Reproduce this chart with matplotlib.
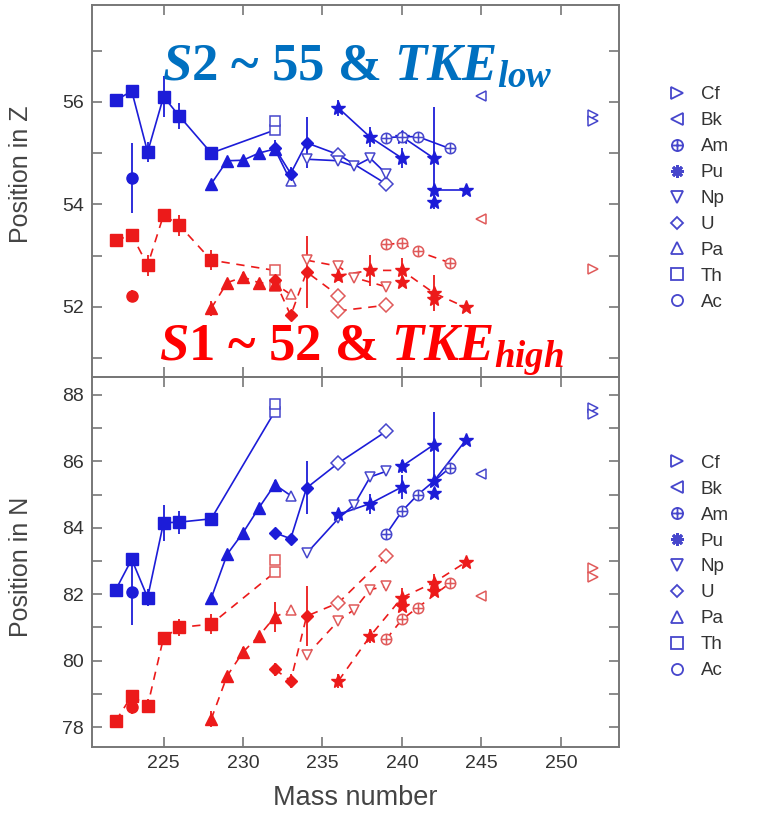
import numpy as np
import matplotlib.pyplot as plt
from matplotlib.path import Path
from matplotlib.lines import Line2D
from matplotlib.ticker import MultipleLocator

plt.rcParams['font.family'] = ['Liberation Sans', 'DejaVu Sans']
plt.rcParams['mathtext.fontset'] = 'custom'
plt.rcParams['mathtext.rm'] = 'Liberation Serif:bold'
plt.rcParams['mathtext.it'] = 'Liberation Serif:italic:bold'
plt.rcParams['mathtext.bf'] = 'Liberation Serif:bold'

# ---------------- data: top panel, position in Z ----------------
# S2 (blue); fill string: f = filled marker, o = open marker
th_a = [222, 223, 224, 225, 226, 228, 232]
th_z2 = [56.03, 56.21, 55.02, 56.10, 55.72, 55.00, 55.45]
th_z2_err = [0.12, 0.1, 0.2, 0.4, 0.25, 0.12, 0]
th_z1 = [53.30, 53.40, 52.81, 53.79, 53.59, 52.91, 52.71]
th_z1_err = [0.12, 0.1, 0.2, 0.1, 0.2, 0.2, 0]
th_fill = 'ffffffo'

ac_a = [223]
ac_z2, ac_z2_err = [54.51], [0.68]
ac_z1, ac_z1_err = [52.22], [0.1]

pa_a = [228, 229, 230, 231, 232, 233]
pa_z2 = [54.40, 54.85, 54.86, 55.00, 55.08, 54.45]
pa_z2_err = [0.08, 0.08, 0.06, 0.06, 0.1, 0]
pa_z1 = [51.97, 52.47, 52.58, 52.47, 52.45, 52.24]
pa_z1_err = [0.15, 0.05, 0.1, 0.05, 0.1, 0]
pa_fill = 'fffffo'

u_a = [232, 233, 234, 236, 239]
u_z2 = [55.10, 54.60, 55.20, 54.97, 54.40]
u_z2_err = [0.15, 0.12, 0.5, 0.08, 0]
u_fill = 'fffoo'
u_a1 = [232, 233, 234, 236]
u_z1 = [52.52, 51.83, 52.68, 52.22]
u_z1_err = [0.15, 0.1, 0.7, 0.1]
u_a1b = [236, 239]
u_z1b = [51.92, 52.03]

np_a = [234, 236, 237, 238, 239]
np_z2 = [54.88, 54.85, 54.74, 54.90, 54.60]
np_a1 = [234, 236, 237, 239]
np_z1 = [52.91, 52.79, 52.57, 52.39]

pu_a2a, pu_z2a, pu_z2a_err = [236, 238, 240], [55.88, 55.31, 54.90], [0.15, 0.2, 0.2]
pu_a2b, pu_z2b, pu_z2b_err = [240, 242], [55.32, 54.90], [0.12, 1.0]
pu_a2c, pu_z2c = [242, 244], [54.27, 54.27]
pu_a2x, pu_z2x = [242], [54.04]
pu_a1 = [236, 238, 240, 242, 244]
pu_z1 = [52.61, 52.71, 52.71, 52.27, 51.99]
pu_z1_err = [0.1, 0.3, 0.25, 0.35, 0.05]
pu_a1x, pu_z1x = [240, 242], [52.48, 52.15]

am_a = [239, 240, 241, 243]
am_z2 = [55.30, 55.32, 55.32, 55.09]
am_z1 = [53.22, 53.24, 53.08, 52.86]

bk_a = [245]
bk_z2, bk_z1 = [56.11], [53.72]
cf_a2, cf_z2 = [252, 252], [55.75, 55.63]
cf_a1, cf_z1 = [252], [52.73]

th_x2, th_zx2, th_zx1 = [232], [55.62], [52.40]

# ---------------- data: bottom panel, position in N ----------------
th_n2 = [82.14, 83.05, 81.90, 84.15, 84.17, 84.27, 87.50]
th_n2_err = [0.15, 0.1, 0.25, 0.55, 0.35, 0.15, 0]
th_n1 = [78.19, 78.94, 78.64, 80.69, 81.00, 81.10, 82.66]
th_n1_err = [0.12, 0.15, 0.2, 0.15, 0.25, 0.3, 0]
th_nx2, th_nx1 = [87.72], [83.03]

ac_n2, ac_n2_err = [82.06], [1.0]
ac_n1, ac_n1_err = [78.60], [0.2]

pa_n2 = [81.88, 83.20, 83.85, 84.60, 85.30, 84.97]
pa_n2_err = [0.08, 0.08, 0.08, 0.1, 0.15, 0]
pa_n1 = [78.24, 79.54, 80.26, 80.74, 81.32, 81.52]
pa_n1_err = [0.25, 0.1, 0.15, 0.1, 0.45, 0]

u_n2 = [83.85, 83.67, 85.20, 85.95, 86.90]
u_n2_err = [0.15, 0.15, 0.8, 0.15, 0]
u_n1 = [79.74, 79.39, 81.34, 81.74, 83.14]
u_n1_err = [0.2, 0.2, 0.9, 0.15, 0]

np_n2 = [83.23, 84.28, 84.70, 85.53, 85.70]
np_n1 = [80.16, 81.20, 81.54, 82.14, 82.24]

pu_n2a, pu_n2a_err = [84.40, 84.73, 85.23], [0.15, 0.3, 0.35]
pu_n2b, pu_n2b_err = [85.85, 86.50], [0.2, 1.0]
pu_n2c = [85.40, 86.63]
pu_n2x = [85.05]
pu_n1 = [79.39, 80.74, 81.90, 82.35, 82.96]
pu_n1_err = [0.2, 0.2, 0.3, 0.25, 0.05]
pu_n1x = [81.64, 82.10]

am_n2 = [83.80, 84.50, 85.00, 85.80]
am_n1 = [80.64, 81.24, 81.60, 82.33]

bk_n2, bk_n1 = [85.63], [81.96]
cf_n2 = [87.60, 87.42]
cf_a1n, cf_n1 = [252, 252], [82.80, 82.52]

legend_names = ['Cf', 'Bk', 'Am', 'Pu', 'Np', 'U', 'Pa', 'Th', 'Ac']

# ---------------- styles ----------------
BLUE = '#1c1cd8'
BLUE_L = '#4646cc'
RED = '#ec1a1a'
RED_L = '#e05a5a'
GRAY = '#777777'

oplus = Path.make_compound_path(
    Path.unit_circle(),
    Path([(-1, 0), (1, 0)], [Path.MOVETO, Path.LINETO]),
    Path([(0, -1), (0, 1)], [Path.MOVETO, Path.LINETO]))
mk = {'Ac': 'o', 'Th': 's', 'Pa': '^', 'U': 'D', 'Np': 'v',
      'Pu': '*', 'Am': oplus, 'Bk': '<', 'Cf': '>'}
fsize = {'o': 8, 's': 8.5, '^': 8, 'D': 6.5, '*': 10, 'v': 8}


def chain(ax, a, v, err, fill, m, col, dashed, line=True):
    ls = (0, (5, 4)) if dashed else '-'
    if line and len(a) > 1:
        ax.plot(a, v, ls=ls, color=col, lw=1.2, zorder=2)
    if err is None:
        err = [0] * len(a)
    if fill is None:
        fill = 'o' * len(a)
    lc = RED_L if dashed else BLUE_L
    for x, y, e, f in zip(a, v, err, fill):
        if e:
            ax.errorbar(x, y, yerr=e, fmt='none', ecolor=col, elinewidth=1.3, capsize=0, zorder=2)
        if f == 'f':
            ax.plot(x, y, marker=m, color=col, ms=fsize.get(m, 8), ls='none', zorder=3)
        else:
            ax.plot(x, y, marker=m, mfc='white', mec=lc, ms=7.5, mew=1.1, ls='none', zorder=3)


fig = plt.figure(figsize=(7.59, 8.22), dpi=100)
ax1 = fig.add_axes([0.1212, 0.5414, 0.6943, 0.4525])
ax2 = fig.add_axes([0.1212, 0.0912, 0.6943, 0.4502])

# top panel
chain(ax1, th_a, th_z2, th_z2_err, th_fill, 's', BLUE, False)
chain(ax1, th_x2, th_zx2, None, None, 's', BLUE, False)
chain(ax1, ac_a, ac_z2, ac_z2_err, 'f', 'o', BLUE, False)
chain(ax1, pa_a, pa_z2, pa_z2_err, pa_fill, '^', BLUE, False)
chain(ax1, u_a, u_z2, u_z2_err, u_fill, 'D', BLUE, False)
chain(ax1, np_a, np_z2, None, None, 'v', BLUE, False)
chain(ax1, pu_a2a, pu_z2a, pu_z2a_err, 'fff', '*', BLUE, False)
chain(ax1, pu_a2b, pu_z2b, pu_z2b_err, 'ff', '*', BLUE, False)
chain(ax1, pu_a2c, pu_z2c, None, 'ff', '*', BLUE, False)
chain(ax1, pu_a2x, pu_z2x, None, 'f', '*', BLUE, False)
chain(ax1, am_a, am_z2, None, None, oplus, BLUE, False)
chain(ax1, bk_a, bk_z2, None, None, '<', BLUE, False)
chain(ax1, cf_a2, cf_z2, None, None, '>', BLUE, False, line=False)

chain(ax1, th_a, th_z1, th_z1_err, th_fill, 's', RED, True)
chain(ax1, th_x2, th_zx1, None, None, 's', RED, True)
chain(ax1, ac_a, ac_z1, ac_z1_err, 'f', 'o', RED, True)
chain(ax1, pa_a, pa_z1, pa_z1_err, pa_fill, '^', RED, True)
chain(ax1, u_a1, u_z1, u_z1_err, 'fffo', 'D', RED, True)
chain(ax1, u_a1b, u_z1b, None, None, 'D', RED, True)
chain(ax1, np_a1, np_z1, None, None, 'v', RED, True)
chain(ax1, pu_a1, pu_z1, pu_z1_err, 'fffff', '*', RED, True)
chain(ax1, pu_a1x, pu_z1x, None, 'ff', '*', RED, True, line=False)
chain(ax1, am_a, am_z1, None, None, oplus, RED, True)
chain(ax1, bk_a, bk_z1, None, None, '<', RED, True)
chain(ax1, cf_a1, cf_z1, None, None, '>', RED, True)

# bottom panel
chain(ax2, th_a, th_n2, th_n2_err, th_fill, 's', BLUE, False)
chain(ax2, th_x2, th_nx2, None, None, 's', BLUE, False)
chain(ax2, ac_a, ac_n2, ac_n2_err, 'f', 'o', BLUE, False)
chain(ax2, pa_a, pa_n2, pa_n2_err, pa_fill, '^', BLUE, False)
chain(ax2, u_a, u_n2, u_n2_err, u_fill, 'D', BLUE, False)
chain(ax2, np_a, np_n2, None, None, 'v', BLUE, False)
chain(ax2, pu_a2a, pu_n2a, pu_n2a_err, 'fff', '*', BLUE, False)
chain(ax2, pu_a2b, pu_n2b, pu_n2b_err, 'ff', '*', BLUE, False)
chain(ax2, pu_a2c, pu_n2c, None, 'ff', '*', BLUE, False)
chain(ax2, pu_a2x, pu_n2x, None, 'f', '*', BLUE, False)
chain(ax2, am_a, am_n2, None, None, oplus, BLUE, False)
chain(ax2, bk_a, bk_n2, None, None, '<', BLUE, False)
chain(ax2, cf_a2, cf_n2, None, None, '>', BLUE, False, line=False)

chain(ax2, th_a, th_n1, th_n1_err, th_fill, 's', RED, True)
chain(ax2, th_x2, th_nx1, None, None, 's', RED, True)
chain(ax2, ac_a, ac_n1, ac_n1_err, 'f', 'o', RED, True)
chain(ax2, pa_a, pa_n1, pa_n1_err, pa_fill, '^', RED, True)
chain(ax2, u_a, u_n1, u_n1_err, u_fill, 'D', RED, True)
chain(ax2, np_a, np_n1, None, None, 'v', RED, True)
chain(ax2, pu_a1, pu_n1, pu_n1_err, 'fffff', '*', RED, True)
chain(ax2, pu_a1x, pu_n1x, None, 'ff', '*', RED, True, line=False)
chain(ax2, am_a, am_n1, None, None, oplus, RED, True)
chain(ax2, bk_a, bk_n1, None, None, '<', RED, True)
chain(ax2, cf_a1n, cf_n1, None, None, '>', RED, True, line=False)

for ax in (ax1, ax2):
    ax.set_xlim(220.5, 253.65)
    ax.xaxis.set_major_locator(MultipleLocator(5))
    ax.yaxis.set_major_locator(MultipleLocator(2))
    ax.yaxis.set_minor_locator(MultipleLocator(1))
    ax.tick_params(which='both', direction='in', top=True, right=True, length=7,
                   width=1.2, color=GRAY, labelcolor='#333333', labelsize=14, pad=6)
    for s in ax.spines.values():
        s.set_color(GRAY)
        s.set_linewidth(1.4)

ax1.set_ylim(50.63, 57.89)
ax2.set_ylim(77.4, 88.54)
ax1.tick_params(labelbottom=False)
ax2.patch.set_visible(False)

ax1.set_ylabel('Position in Z', fontsize=18, color='#444444')
ax2.set_ylabel('Position in N', fontsize=18, color='#444444')
ax1.yaxis.set_label_coords(-0.112, 0.546)
ax2.yaxis.set_label_coords(-0.112, 0.486)
ax2.set_xlabel('Mass number', fontsize=19.5, color='#444444', labelpad=9)

# legends
for ax, top in ((ax1, 0.895), (ax2, 0.447)):
    hs = []
    for nm in legend_names:
        m = mk[nm]
        if nm == 'Pu':
            hs.append(Line2D([], [], marker=(8, 2, 0), ls='none', mec=BLUE_L, ms=9, mew=2))
        else:
            hs.append(Line2D([], [], marker=m, ls='none', mfc='none', mec=BLUE_L,
                             ms=8 if m != 'D' else 6.5, mew=1.3))
    ax.legend(hs, legend_names, loc='upper left', bbox_to_anchor=(0.879, top),
              bbox_transform=fig.transFigure, frameon=False, handlelength=1.0,
              handletextpad=0.8, labelspacing=0.47, borderpad=0, borderaxespad=0,
              fontsize=13.5, labelcolor='#333333')

# annotations
ax1.text(0.133, 0.800, r'$\mathit{S2}$ ~ 55 & $\mathit{TKE}_{\mathit{low}}$',
         transform=ax1.transAxes, fontsize=38, color='#0070C0',
         family='Liberation Serif', weight='bold', zorder=10)
ax1.text(0.128, 0.044, r'$\mathit{S1}$ ~ 52 & $\mathit{TKE}_{\mathit{high}}$',
         transform=ax1.transAxes, fontsize=38, color='#FF0000',
         family='Liberation Serif', weight='bold', zorder=10)

fig.savefig('out.png', dpi=100)
